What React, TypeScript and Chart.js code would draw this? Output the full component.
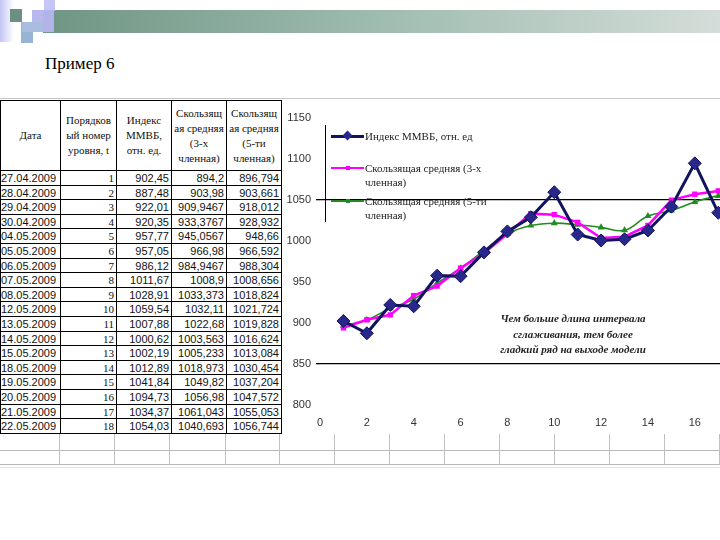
import React, { useEffect, useRef } from "react";
import { Chart, registerables } from "chart.js";

Chart.register(...registerables);

const dates = [
  "27.04.2009", "28.04.2009", "29.04.2009", "30.04.2009", "04.05.2009", "05.05.2009",
  "06.05.2009", "07.05.2009", "08.05.2009", "12.05.2009", "13.05.2009", "14.05.2009",
  "15.05.2009", "18.05.2009", "19.05.2009", "20.05.2009", "21.05.2009", "22.05.2009",
];
const levels = [1, 2, 3, 4, 5, 6, 7, 8, 9, 10, 11, 12, 13, 14, 15, 16, 17, 18];
const indexMMVB = [
  902.45, 887.48, 922.01, 920.35, 957.77, 957.05, 986.12, 1011.67, 1028.91,
  1059.54, 1007.88, 1000.62, 1002.19, 1012.89, 1041.84, 1094.73, 1034.37, 1054.03,
];
const ma3 = [
  894.2, 903.98, 909.9467, 933.3767, 945.0567, 966.98, 984.9467, 1008.9, 1033.373,
  1032.11, 1022.68, 1003.563, 1005.233, 1018.973, 1049.82, 1056.98, 1061.043, 1040.693,
];
const ma5 = [
  896.794, 903.661, 918.012, 928.932, 948.66, 966.592, 988.304, 1008.656, 1018.824,
  1021.724, 1019.828, 1016.624, 1013.084, 1030.454, 1037.204, 1047.572, 1055.053, 1056.744,
];
const seriesNames = [
  "Индекс ММВБ, отн. ед",
  "Скользящая средняя (3-х членная)",
  "Скользящая средняя (5-ти членная)",
];
const headers = [
  ["Дата"],
  ["Порядков", "ый номер", "уровня, t"],
  ["Индекс", "ММВБ,", "отн. ед."],
  ["Скользящ", "ая средняя", "(3-х", "членная)"],
  ["Скользящ", "ая средняя", "(5-ти", "членная)"],
];
const yTicks = { min: 800, max: 1150, step: 50 };
const xTicks = { min: 0, max: 20, step: 2 };

const NAVY = "#121260";
const MAGENTA = "#ff00ff";
const GREEN = "#228b22";

const fmt = (v: number) => String(v).replace(".", ",");

const colX = [0, 60, 116, 171, 226, 281];
const ROW_TOP = 171;
const ROW_H = 14.6;

function ChartPart() {
  const ref = useRef<HTMLCanvasElement | null>(null);
  useEffect(() => {
    if (!ref.current) return;
    const mk = (arr: number[]) => arr.map((v, i) => ({ x: levels[i], y: v }));
    const chart = new Chart(ref.current, {
      type: "line",
      data: {
        datasets: [
          {
            label: seriesNames[2],
            data: mk(ma5),
            borderColor: GREEN,
            backgroundColor: GREEN,
            borderWidth: 1.6,
            pointStyle: "triangle",
            pointRadius: 2.5,
            tension: 0.4,
            order: 3,
          },
          {
            label: seriesNames[1],
            data: mk(ma3),
            borderColor: MAGENTA,
            backgroundColor: MAGENTA,
            borderWidth: 2.5,
            pointStyle: "rect",
            pointRadius: 2,
            tension: 0,
            order: 2,
          },
          {
            label: seriesNames[0],
            data: mk(indexMMVB),
            borderColor: NAVY,
            backgroundColor: "#28288a",
            pointBorderColor: NAVY,
            borderWidth: 3,
            pointStyle: "rectRot",
            pointRadius: 6.5,
            pointBorderWidth: 1,
            tension: 0,
            order: 1,
          },
        ],
      },
      options: {
        animation: false,
        responsive: true,
        maintainAspectRatio: false,
        layout: { padding: { top: 18, left: 0, right: 0, bottom: 0 } },
        plugins: { legend: { display: false }, tooltip: { enabled: false } },
        scales: {
          x: {
            type: "linear",
            min: xTicks.min,
            max: xTicks.max,
            ticks: {
              stepSize: xTicks.step,
              padding: 11,
              color: "#333",
              font: { family: "'Liberation Sans', Arial", size: 11 },
              callback: (v: any) => String(v),
            },
            grid: { display: false, drawTicks: false },
            border: { display: false },
            afterFit: (s: any) => {
              s.height = 30;
              s.paddingLeft = 0;
              s.paddingRight = 0;
            },
          },
          y: {
            min: yTicks.min,
            max: yTicks.max,
            ticks: {
              stepSize: yTicks.step,
              padding: 5,
              color: "#333",
              font: { family: "'Liberation Sans', Arial", size: 11 },
              callback: (v: any) => String(v),
            },
            grid: {
              drawTicks: true,
              tickLength: 4,
              lineWidth: 1.3,
              color: (ctx: any) =>
                ctx.tick && (ctx.tick.value === 1050 || ctx.tick.value === 850)
                  ? "#000"
                  : "rgba(0,0,0,0)",
            },
            border: { display: false },
            afterFit: (s: any) => {
              s.width = 40;
              s.paddingTop = 0;
              s.paddingBottom = 0;
            },
          },
        },
      },
    });
    return () => chart.destroy();
  }, []);
  return (
    <div style={{ position: "absolute", left: 280, top: 100, width: 516, height: 335 }}>
      <canvas ref={ref} />
    </div>
  );
}

function Table() {
  const serif = "'Liberation Serif', 'Times New Roman', serif";
  const sans = "'Liberation Sans', Arial, sans-serif";
  const bottom = ROW_TOP + ROW_H * dates.length;
  const els: React.ReactNode[] = [];
  colX.forEach((x, i) =>
    els.push(
      <div key={"v" + i} style={{ position: "absolute", left: x, top: 100, width: 1, height: bottom - 100, background: "#000" }} />
    )
  );
  els.push(<div key="htop" style={{ position: "absolute", left: 0, top: 100, width: 282, height: 1, background: "#000" }} />);
  for (let r = 0; r <= dates.length; r++) {
    els.push(
      <div key={"h" + r} style={{ position: "absolute", left: 0, top: Math.round(ROW_TOP + r * ROW_H) - 1, width: 282, height: 1, background: "#000" }} />
    );
  }
  headers.forEach((lines, c) =>
    els.push(
      <div
        key={"hd" + c}
        style={{
          position: "absolute",
          left: colX[c] + 1,
          top: 101,
          width: colX[c + 1] - colX[c] - 1,
          height: 69,
          display: "flex",
          flexDirection: "column",
          justifyContent: "center",
          alignItems: "center",
          fontFamily: serif,
          fontSize: 11,
          lineHeight: "15px",
          color: "#111",
          whiteSpace: "nowrap",
        }}
      >
        {lines.map((l, k) => (
          <div key={k}>{l}</div>
        ))}
      </div>
    )
  );
  dates.forEach((d, r) => {
    const top = ROW_TOP + r * ROW_H;
    const cells = [d, String(levels[r]), fmt(indexMMVB[r]), fmt(ma3[r]), fmt(ma5[r])];
    cells.forEach((txt, c) =>
      els.push(
        <div
          key={"c" + r + "_" + c}
          style={{
            position: "absolute",
            left: colX[c] + 1,
            top: top,
            width: colX[c + 1] - colX[c] - 3,
            height: ROW_H,
            lineHeight: ROW_H + "px",
            textAlign: c === 0 ? "left" : "right",
            fontFamily: c === 1 ? serif : sans,
            fontSize: 11,
            color: "#111",
            whiteSpace: "nowrap",
            overflow: "visible",
          }}
        >
          {txt}
        </div>
      )
    );
  });
  return <>{els}</>;
}

function SheetLines() {
  const xs = [59, 114, 169, 225, 279, 334, 389, 444, 499, 554, 609, 664, 719];
  const els: React.ReactNode[] = [];
  els.push(<div key="t" style={{ position: "absolute", left: 0, top: 98, width: 720, height: 1, background: "#c8c8c8" }} />);
  els.push(<div key="a" style={{ position: "absolute", left: 0, top: 450, width: 720, height: 1, background: "#b8b8b8" }} />);
  els.push(<div key="b" style={{ position: "absolute", left: 0, top: 464, width: 720, height: 1, background: "#b8b8b8" }} />);
  els.push(<div key="c" style={{ position: "absolute", left: 0, top: 467, width: 720, height: 1, background: "#e4e4e4" }} />);
  xs.forEach((x, i) =>
    els.push(<div key={"x" + i} style={{ position: "absolute", left: x, top: 434, width: 1, height: 31, background: "#c0c0c0" }} />)
  );
  return <>{els}</>;
}

function Legend() {
  const serif = "'Liberation Serif', 'Times New Roman', serif";
  const item = (top: number, color: string, lw: number, marker: React.ReactNode, lines: string[]) => (
    <div style={{ position: "absolute", left: 5, top: top }}>
      <div style={{ position: "absolute", left: 0, top: 7 - lw / 2, width: 33, height: lw, background: color }} />
      {marker}
      <div style={{ position: "absolute", left: 34, top: 0, fontFamily: serif, fontSize: 11, lineHeight: "14px", color: "#222", whiteSpace: "nowrap" }}>
        {lines.map((l, k) => (
          <div key={k}>{l}</div>
        ))}
      </div>
    </div>
  );
  return (
    <div style={{ position: "absolute", left: 325, top: 125, width: 170, height: 97, borderLeft: "1px solid #000" }}>
      {item(
        4,
        NAVY,
        3,
        <div style={{ position: "absolute", left: 13, top: 3, width: 7, height: 7, background: "#28288a", transform: "rotate(45deg)" }} />,
        [seriesNames[0]]
      )}
      {item(
        36,
        MAGENTA,
        2.5,
        <div style={{ position: "absolute", left: 15, top: 5, width: 4, height: 4, background: MAGENTA }} />,
        ["Скользящая средняя (3-х", "членная)"]
      )}
      {item(
        69,
        GREEN,
        1.6,
        <div style={{ position: "absolute", left: 15, top: 5, width: 4, height: 4, background: GREEN }} />,
        ["Скользящая средняя (5-ти", "членная)"]
      )}
    </div>
  );
}

function Decor() {
  return (
    <>
      <div style={{ position: "absolute", left: 0, top: 0, width: 14, height: 42, background: "linear-gradient(to right, #c4c4f4, #ffffff)" }} />
      <div style={{ position: "absolute", left: 43, top: 10, width: 677, height: 23, background: "linear-gradient(to right, #6f9584, #9fbcb0 50%, #d4ddd9)" }} />
      <div style={{ position: "absolute", left: 10, top: 9, width: 12, height: 13, background: "#6b8f80" }} />
      <div style={{ position: "absolute", left: 44, top: 0, width: 11, height: 11, background: "#c6c6f6" }} />
      <div style={{ position: "absolute", left: 32, top: 10, width: 22, height: 22, background: "#b4b4ee", opacity: 0.95 }} />
      <div style={{ position: "absolute", left: 21, top: 22, width: 12, height: 21, background: "#96b4d4" }} />
      <div style={{ position: "absolute", left: 22, top: 22, width: 21, height: 10, background: "#a8bde0" }} />
    </>
  );
}

export default function App() {
  return (
    <div style={{ position: "fixed", left: 0, top: 0, width: 720, height: 540, overflow: "hidden", background: "#fff" }}>
      <Decor />
      <div style={{ position: "absolute", left: 45, top: 54, fontFamily: "'Liberation Serif', 'Times New Roman', serif", fontSize: 17, color: "#000" }}>
        Пример 6
      </div>
      <SheetLines />
      <Table />
      <ChartPart />
      <Legend />
      <div
        style={{
          position: "absolute",
          left: 473,
          top: 311,
          width: 200,
          textAlign: "center",
          fontFamily: "'Liberation Serif', 'Times New Roman', serif",
          fontStyle: "italic",
          fontWeight: "bold",
          fontSize: 11,
          lineHeight: "15.5px",
          color: "#222",
        }}
      >
        <div>Чем больше длина интервала</div>
        <div>сглаживания, тем более</div>
        <div>гладкий ряд на выходе модели</div>
      </div>
    </div>
  );
}
